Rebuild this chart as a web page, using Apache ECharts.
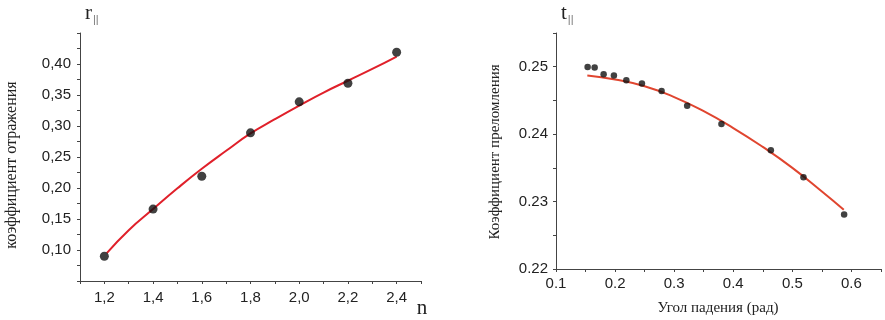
<!DOCTYPE html>
<html>
<head>
<meta charset="utf-8">
<script src="https://cdn.jsdelivr.net/npm/echarts@6/dist/echarts.min.js"></script>
<style>html,body{margin:0;padding:0;background:#fff}#c{width:885px;height:320px}</style>
</head>
<body>
<div id="c"></div>
<script>
// Left chart: reflection coefficient vs n
const leftPointsX = [1.2, 1.4, 1.6, 1.8, 2.0, 2.2, 2.4];
const leftPointsY = [0.09, 0.166, 0.219, 0.289, 0.339, 0.369, 0.419];
const leftFitX = [1.21, 1.3, 1.4, 1.5, 1.6, 1.7, 1.8, 1.9, 2.0, 2.1, 2.2, 2.3, 2.4];
const leftFitY = [0.095, 0.132, 0.166, 0.1995, 0.231, 0.26, 0.288, 0.311, 0.333, 0.354, 0.373, 0.392, 0.412];
const leftXTicks = [1.2, 1.4, 1.6, 1.8, 2.0, 2.2, 2.4];
const leftYTicks = [0.10, 0.15, 0.20, 0.25, 0.30, 0.35, 0.40];

// Right chart: transmission coefficient vs angle
const rightPointsX = [0.1535, 0.1654, 0.1806, 0.198, 0.219, 0.2454, 0.2787, 0.322, 0.380, 0.4636, 0.5188, 0.5876];
const rightPointsY = [0.24995, 0.2499, 0.2489, 0.2487, 0.248, 0.2475, 0.2464, 0.2442, 0.2415, 0.2376, 0.2336, 0.2281];
const rightFitX = [0.153, 0.2, 0.25, 0.3, 0.35, 0.4, 0.45, 0.5, 0.55, 0.587];
const rightFitY = [0.2487, 0.2481, 0.2471, 0.2455, 0.2434, 0.2409, 0.2381, 0.2350, 0.2315, 0.2288];
const rightXTicks = [0.1, 0.2, 0.3, 0.4, 0.5, 0.6];
const rightYTicks = [0.22, 0.23, 0.24, 0.25];

function pick(list, v, dec, sep) {
  for (const t of list) {
    if (Math.abs(t - v) < 1e-7) return t.toFixed(dec).replace('.', sep);
  }
  return '';
}

const axisCol = '#444';
const labelStyle = { color: '#222', fontFamily: 'Liberation Sans, Arial, sans-serif', fontSize: 15 };
const serif = 'Liberation Serif, Times New Roman, serif';

const chart = echarts.init(document.getElementById('c'), null, { renderer: 'canvas' });
chart.setOption({
  animation: false,
  backgroundColor: '#fff',
  grid: [
    { left: 80, right: 464, top: 33, bottom: 39 },
    { left: 556, right: 4, top: 33, bottom: 51 }
  ],
  xAxis: [
    {
      type: 'value', gridIndex: 0, min: 1.1, max: 2.5, interval: 0.1,
      axisLine: { show: true, lineStyle: { color: axisCol, width: 1 } },
      axisTick: { show: true, inside: false, length: 3, lineStyle: { color: axisCol } },
      splitLine: { show: false },
      axisLabel: Object.assign({ margin: 9, formatter: v => pick(leftXTicks, v, 1, ',') }, labelStyle)
    },
    {
      type: 'value', gridIndex: 1, min: 0.1, max: 0.65, interval: 0.05,
      axisLine: { show: true, lineStyle: { color: axisCol, width: 1 } },
      axisTick: { show: true, inside: false, length: 3, lineStyle: { color: axisCol } },
      splitLine: { show: false },
      axisLabel: Object.assign({ margin: 7, formatter: v => pick(rightXTicks, v, 1, '.') }, labelStyle)
    }
  ],
  yAxis: [
    {
      type: 'value', gridIndex: 0, min: 0.05, max: 0.45, interval: 0.025,
      axisLine: { show: true, lineStyle: { color: axisCol, width: 1 } },
      axisTick: { show: true, inside: false, length: 3, lineStyle: { color: axisCol } },
      splitLine: { show: false },
      axisLabel: Object.assign({ margin: 9, formatter: v => pick(leftYTicks, v, 2, ',') }, labelStyle)
    },
    {
      type: 'value', gridIndex: 1, min: 0.22, max: 0.255, interval: 0.005,
      axisLine: { show: true, lineStyle: { color: axisCol, width: 1 } },
      axisTick: { show: true, inside: false, length: 3, lineStyle: { color: axisCol } },
      splitLine: { show: false },
      axisLabel: Object.assign({ margin: 8, formatter: v => pick(rightYTicks, v, 2, '.') }, labelStyle)
    }
  ],
  series: [
    {
      type: 'line', xAxisIndex: 0, yAxisIndex: 0, smooth: true, showSymbol: false,
      lineStyle: { color: '#e0202a', width: 2 }, z: 2,
      data: leftFitX.map((x, i) => [x, leftFitY[i]])
    },
    {
      type: 'scatter', xAxisIndex: 0, yAxisIndex: 0, symbolSize: 9,
      itemStyle: { color: '#111' }, z: 3,
      data: leftPointsX.map((x, i) => [x, leftPointsY[i]])
    },
    {
      type: 'line', xAxisIndex: 1, yAxisIndex: 1, smooth: true, showSymbol: false,
      lineStyle: { color: '#e0452f', width: 2 }, z: 2,
      data: rightFitX.map((x, i) => [x, rightFitY[i]])
    },
    {
      type: 'scatter', xAxisIndex: 1, yAxisIndex: 1, symbolSize: 6.5,
      itemStyle: { color: '#111' }, z: 3,
      data: rightPointsX.map((x, i) => [x, rightPointsY[i]])
    }
  ],
  graphic: [
    {
      type: 'text', left: 85, top: 3,
      style: {
        text: '{a|r}{b|||}',
        rich: {
          a: { fontFamily: serif, fontSize: 21, fill: '#222' },
          b: { fontFamily: 'Liberation Sans, Arial, sans-serif', fontSize: 11, fill: '#777', padding: [12, 0, 0, 1] }
        }
      }
    },
    {
      type: 'text', left: 561, top: 3,
      style: {
        text: '{a|t}{b|||}',
        rich: {
          a: { fontFamily: serif, fontSize: 21, fill: '#222' },
          b: { fontFamily: 'Liberation Sans, Arial, sans-serif', fontSize: 11, fill: '#777', padding: [12, 0, 0, 1] }
        }
      }
    },
    {
      type: 'text', x: 422, y: 308,
      style: { text: 'n', fontFamily: serif, fontSize: 21, fill: '#222', align: 'center', verticalAlign: 'middle' }
    },
    {
      type: 'text', x: 718, y: 308,
      style: { text: 'Угол падения (рад)', fontFamily: serif, fontSize: 15, fill: '#222', align: 'center', verticalAlign: 'middle' }
    },
    {
      type: 'text', x: 12, y: 165, rotation: Math.PI / 2,
      style: { text: 'коэффициент отражения', fontFamily: serif, fontSize: 16, fill: '#222', align: 'center', verticalAlign: 'middle' }
    },
    {
      type: 'text', x: 495, y: 152, rotation: Math.PI / 2,
      style: { text: 'Коэффициент преломления', fontFamily: serif, fontSize: 15, fill: '#222', align: 'center', verticalAlign: 'middle' }
    }
  ]
});
</script>
</body>
</html>
